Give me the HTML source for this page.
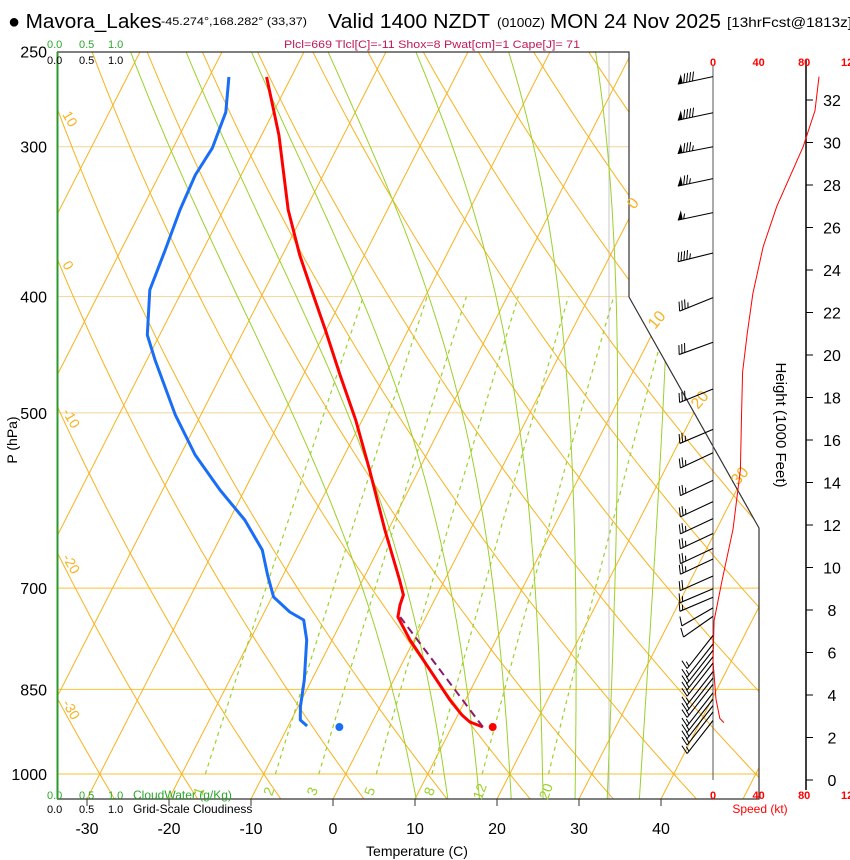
<!DOCTYPE html>
<html><head><meta charset="utf-8"><style>
html,body{margin:0;padding:0;background:#fff;}
svg{display:block;font-family:"Liberation Sans",sans-serif;}
</style></head><body>
<svg id="chart" width="850" height="860" viewBox="0 0 850 860" xmlns="http://www.w3.org/2000/svg">
<defs><clipPath id="plotclip"><polygon points="57,52 629,52 629,297 759,528 759,799 57,799"/></clipPath></defs>
<rect x="0" y="0" width="850" height="860" fill="#fff"/>
<g id="title">
<text x="8" y="28" font-size="20" fill="#000">● <tspan textLength="136" lengthAdjust="spacingAndGlyphs">Mavora_Lakes</tspan></text>
<text x="161" y="25" font-size="11" fill="#000" textLength="146" lengthAdjust="spacingAndGlyphs">-45.274°,168.282° (33,37)</text>
<text x="328" y="28" font-size="20" fill="#000" textLength="162" lengthAdjust="spacingAndGlyphs">Valid 1400 NZDT</text>
<text x="497" y="27" font-size="13" fill="#000" textLength="48" lengthAdjust="spacingAndGlyphs">(0100Z)</text>
<text x="550" y="28" font-size="20" fill="#000" textLength="171" lengthAdjust="spacingAndGlyphs">MON 24 Nov 2025</text>
<text x="727" y="27" font-size="14" fill="#000" textLength="125" lengthAdjust="spacingAndGlyphs">[13hrFcst@1813z]</text>
<text x="432" y="48" font-size="11" fill="#c0185a" text-anchor="middle" textLength="296" lengthAdjust="spacingAndGlyphs">Plcl=669 Tlcl[C]=-11 Shox=8 Pwat[cm]=1 Cape[J]= 71</text>
</g>
<g id="grid" clip-path="url(#plotclip)"></g>
<g id="profiles" clip-path="url(#plotclip)"></g>
<g id="frame"></g>
<g id="labels"></g>
<g id="wind"></g>
</svg>
<script>
// ---- data ----
const tempP = [262.4,293.3,338.7,369.3,391.2,426.5,465.0,506.9,557.9,626.1,689.1,709.2,723.0,739.8,773.2,819.0,867.6,893.0,905.0,913.8];
const tempT = [-53.0,-47.9,-42.1,-37.9,-34.8,-30.1,-25.5,-20.8,-16.0,-10.4,-5.5,-4.1,-3.9,-3.4,-0.5,3.8,8.1,10.5,11.9,13.8];
const dewP = [262.4,280.7,300.7,316.7,338.7,365.8,394.9,430.6,451.8,502.1,542.1,579.8,614.2,650.6,682.6,712.0,732.7,744.1,773.2,834.9,879.3,901.6,912.0];
const dewT = [-57.6,-55.8,-55.2,-55.6,-55.3,-54.6,-54.0,-51.5,-49.0,-43.1,-38.2,-33.0,-28.1,-24.1,-21.9,-19.8,-16.9,-14.7,-13.1,-10.9,-9.7,-8.9,-7.7];
const sfcP = 913.8, sfcT = 15.0, sfcTd = -3.7;
const parcelP = [913.8, 740.0];
const parcelT = [13.8, -3.1];
const speedH = [33.1,31.5,29.8,27.0,25.1,22.9,21.0,19.2,17.1,14.6,11.8,9.4,7.5,5.6,3.8,2.9,2.7];
const speedKt = [93,89.5,79,56,44,35,30,26,25,24,17.5,8,1,0,2.6,6,9.6];
const barbH = [33.1,31.4,29.8,28.3,26.7,24.8,22.7,20.6,18.4,16.5,15.4,14.1,13.1,12.3,11.6,10.9,10.4,9.6,9.0,8.6,8.1,7.7,6.8,6.4,6.1,5.8,5.5,5.1,4.8,4.5,4.1,3.8,3.5,3.2,2.8];
const barbSpd = [90,90,85,75,55,45,35,30,28,25,25,25,25,25,25,25,25,20,15,15,10,10,15,15,15,15,15,15,15,15,15,15,15,15,15];
const barbDir = [258,258,259,258,258,256,248,250,248,247,245,245,245,245,245,245,245,246,247,247,240,235,218,218,218,218,218,218,218,218,218,218,218,218,218];
const pLevels = [250,300,400,500,700,850,1000];
const tempTicks = [-30,-20,-10,0,10,20,30,40];
const heightTicks = [0,2,4,6,8,10,12,14,16,18,20,22,24,26,28,30,32];
const speedTicks = [0,40,80,120];
const isoT = [-130,-120,-110,-100,-90,-80,-70,-60,-50,-40,-30,-20,-10,0,10,20,30,40,50];
const thetaC = [-40,-30,-20,-10,0,10,20,30,40,50,60,70,80,90,100,110,120,130,140,150,160,170,180,190,200];
const thetaW = [8,12,16,20,24,28,32,36];
const mixR = [1,2,3,5,8,12,20];

// ---- axes ----
const NS='http://www.w3.org/2000/svg';
function yP(p){return 774-521*Math.log(1000/p);}
function xT(T,p){return 333+8.2*T+0.51*(799-yP(p));}
function yH(h){return 780-21.25*h;}
function xS(s){return 713+1.14*s;}
function mk(tag,attrs,parent){const e=document.createElementNS(NS,tag);for(const k in attrs)e.setAttribute(k,attrs[k]);parent.appendChild(e);return e;}
const grid=document.getElementById('grid'),prof=document.getElementById('profiles'),frame=document.getElementById('frame'),labels=document.getElementById('labels'),wind=document.getElementById('wind');
function pathFrom(pts){return 'M'+pts.map(p=>p[0].toFixed(1)+','+p[1].toFixed(1)).join('L');}

pLevels.forEach(p=>{
  if(p===250)return;
  const strong=(p>=700);
  const l=mk('line',{x1:57,x2:760,y1:yP(p),y2:yP(p),stroke:strong?'#f7c23a':'#f0d49a','stroke-width':1},grid);
  
  
});
const gv=mk('line',{x1:609,x2:609,y1:52,y2:799,stroke:'#bbb','stroke-width':0.8},grid);


isoT.forEach(T=>{
  const l=mk('line',{x1:xT(T,1050),y1:yP(1050),x2:xT(T,240),y2:yP(240),stroke:'#f7b21e','stroke-width':1},grid);
  
  
});
thetaC.forEach(th=>{
  const pts=[];
  for(let p=1060;p>=240;p-=10){const T=(th+273.15)*Math.pow(p/1000,0.2857)-273.15;pts.push([xT(T,p),yP(p)]);}
  const l=mk('path',{d:pathFrom(pts),fill:'none',stroke:'#f7b21e','stroke-width':1},grid);
  
  
});
function es(T){return 6.112*Math.exp(17.67*T/(T+243.5));}
function moistPts(tw){
  const Rd=287.04,cp=1005.7,Lv=2.501e6,eps=0.622;
  function grad(p,T){const TK=T+273.15;const e=es(T);const rs=eps*e/(p-e);return (1/p)*(Rd*TK+Lv*rs)/(cp+Lv*Lv*rs*eps/(Rd*TK*TK));}
  const up=[],dn=[];let T=tw;
  for(let p=1000;p>=240;p-=5){up.push([xT(T,p),yP(p)]);T-=grad(p,T)*5;}
  T=tw;for(let p=1000;p<=1060;p+=5){dn.push([xT(T,p),yP(p)]);T+=grad(p,T)*5;}
  return dn.reverse().concat(up);
}
thetaW.forEach(tw=>{
  const l=mk('path',{d:pathFrom(moistPts(tw)),fill:'none',stroke:'#9ad12a','stroke-width':1},grid);
  
  
});
function tdFromW(w,p){const e=w*p/(622+w);const a=Math.log(e/6.112);return 243.5*a/(17.67-a);}
mixR.forEach(w=>{
  const pts=[];for(let p=1000;p>=400;p-=10)pts.push([xT(tdFromW(w,p),p),yP(p)]);
  const l=mk('path',{d:pathFrom(pts),fill:'none',stroke:'#9ad12a','stroke-width':1.2,'stroke-dasharray':'4,4'},grid);
  
  
  const x=xT(tdFromW(w,1000),1000)+(w>=8?2:-2);
  const t=mk('text',{x:x,y:793,'font-size':14,fill:'#9ad12a','text-anchor':'middle',transform:'rotate(-70 '+x+' 793)'},labels);
  t.textContent=w;
  
  
});
const tp=mk('path',{d:pathFrom(tempP.map((p,i)=>[xT(tempT[i],p),yP(p)])),fill:'none',stroke:'#f00','stroke-width':3,'stroke-linejoin':'round'},prof);


const dp=mk('path',{d:pathFrom(dewP.map((p,i)=>[xT(dewT[i],p),yP(p)])),fill:'none',stroke:'#1a6ef5','stroke-width':3,'stroke-linejoin':'round'},prof);


const pp=mk('path',{d:pathFrom(parcelP.map((p,i)=>[xT(parcelT[i],p),yP(p)])),fill:'none',stroke:'#8b1a6b','stroke-width':2,'stroke-dasharray':'8,5'},prof);


const st=mk('circle',{cx:xT(sfcT,sfcP),cy:yP(sfcP),r:4,fill:'#f00'},prof);


const sd=mk('circle',{cx:xT(sfcTd,sfcP),cy:yP(sfcP),r:4,fill:'#1a6ef5'},prof);



const fr=mk('polyline',{points:'57,52 629,52 629,297 759,528 759,799 57,799',fill:'none',stroke:'#333','stroke-width':1.2},frame);


const gl=mk('line',{x1:57.5,x2:57.5,y1:52,y2:799,stroke:'#2a9a2a','stroke-width':2},frame);


pLevels.forEach(p=>{
  const t=mk('text',{x:47,y:yP(p)+6,'font-size':16,'text-anchor':'end',fill:'#000'},labels);
  t.textContent=p;
  
  
});
let t0=mk('text',{x:17,y:440,'font-size':14,'text-anchor':'middle',transform:'rotate(-90 17 440)'},labels);
t0.textContent='P (hPa)';


tempTicks.forEach(T=>{
  const x=333+8.2*T;
  const tk=mk('line',{x1:x,x2:x,y1:799,y2:806,stroke:'#333','stroke-width':1},labels);
  
  
  const t=mk('text',{x:x,y:834,'font-size':16,'text-anchor':'middle'},labels);
  t.textContent=T;
  
  
});
t0=mk('text',{x:417,y:856,'font-size':14,'text-anchor':'middle'},labels);
t0.textContent='Temperature (C)';


[10,0,-10,-20,-30].forEach(th=>{
  let best=null;
  for(let p=250;p<=1050;p+=1){const T=(th+273.15)*Math.pow(p/1000,0.2857)-273.15;const x=xT(T,p);if(x<=60){best=yP(p);}}
  if(best===null)return;
  const t=mk('text',{x:62,y:best,'font-size':14,fill:'#f7b21e',transform:'rotate(60 62 '+best+')'},labels);
  t.textContent=th;
  
  
});
[[0,634,210],[10,655,330],[20,698,410],[30,738,486]].forEach(a=>{
  const t=mk('text',{x:a[1],y:a[2],'font-size':16,fill:'#f7b21e',transform:'rotate(-50 '+a[1]+' '+a[2]+')'},labels);
  t.textContent=a[0];
  
  
});
function txt(x,y,s,fs,fill,name,anchor){const t=mk('text',{x:x,y:y,'font-size':fs,fill:fill,'text-anchor':anchor||'start'},labels);t.textContent=s;return t;}
txt(47,48,'0.0','11','#2aa82a','cloudwater-scale-top');txt(79,48,'0.5','11','#2aa82a','cloudwater-scale-top');txt(108,48,'1.0','11','#2aa82a','cloudwater-scale-top');
txt(47,64,'0.0','11','#000','cloudiness-scale-top');txt(79,64,'0.5','11','#000','cloudiness-scale-top');txt(108,64,'1.0','11','#000','cloudiness-scale-top');
txt(47,799,'0.0','11','#2aa82a','cloudwater-scale-bottom');txt(79,799,'0.5','11','#2aa82a','cloudwater-scale-bottom');txt(108,799,'1.0','11','#2aa82a','cloudwater-scale-bottom');
txt(133,799,'CloudWater (g/Kg)','12','#2aa82a','cloudwater-legend');
txt(47,813,'0.0','11','#000','cloudiness-scale-bottom');txt(79,813,'0.5','11','#000','cloudiness-scale-bottom');txt(108,813,'1.0','11','#000','cloudiness-scale-bottom');
txt(133,813,'Grid-Scale Cloudiness','12','#000','cloudiness-legend');

let ax=mk('line',{x1:713,x2:713,y1:66,y2:780,stroke:'#555','stroke-width':1},wind);


ax=mk('line',{x1:806,x2:806,y1:60,y2:790,stroke:'#000','stroke-width':1.5},wind);


heightTicks.forEach(h=>{
  const tk=mk('line',{x1:806,x2:813,y1:yH(h),y2:yH(h),stroke:'#000','stroke-width':1},wind);
  
  
  const t=mk('text',{x:832,y:yH(h)+6,'font-size':16,'text-anchor':'middle'},wind);
  t.textContent=h;
  
  
});
t0=mk('text',{x:776,y:425,'font-size':15,'text-anchor':'middle',transform:'rotate(90 776 425)'},wind);
t0.textContent='Height (1000 Feet)';


speedTicks.forEach(s=>{
  [66,799].forEach(y=>{
    const t=mk('text',{x:(s===120?841:xS(s)),y:y,'font-size':11,'font-weight':'bold',fill:'#f00','text-anchor':(s===120?'start':'middle')},wind);
    t.textContent=(s===120?'120':s);
    
    
  });
});
t0=mk('text',{x:760,y:813,'font-size':12,fill:'#f00','text-anchor':'middle'},wind);
t0.textContent='Speed (kt)';


const spd=mk('path',{d:pathFrom(speedH.map((h,i)=>[xS(speedKt[i]),yH(h)])),fill:'none',stroke:'#f00','stroke-width':1},wind);


barbH.forEach((h,i)=>{
  const g=mk('g',{},wind);
  
  
  const d=barbDir[i]*Math.PI/180;
  const ux=Math.sin(d),uy=-Math.cos(d);
  const L=(h<7?42:36);
  const bx=713,by=yH(h);
  const tx=bx+ux*L,ty=by+uy*L;
  let px=uy,py=-ux; if(py>0){px=-px;py=-py;}
  mk('line',{x1:bx,y1:by,x2:tx,y2:ty,stroke:'#000','stroke-width':1.1},g);
  let s=Math.round(barbSpd[i]/5)*5,pos=0;
  while(s>=50){const ax1=tx-ux*pos,ay1=ty-uy*pos;const ax2=tx-ux*(pos+5),ay2=ty-uy*(pos+5);
    mk('polygon',{points:ax1+','+ay1+' '+(ax2+px*9)+','+(ay2+py*9)+' '+ax2+','+ay2,fill:'#000'},g);pos+=6;s-=50;}
  while(s>=10){const ax1=tx-ux*pos,ay1=ty-uy*pos;mk('line',{x1:ax1,y1:ay1,x2:ax1+px*9-ux*3,y2:ay1+py*9-uy*3,stroke:'#000','stroke-width':1},g);pos+=3;s-=10;}
  if(s>=5){const ax1=tx-ux*pos,ay1=ty-uy*pos;mk('line',{x1:ax1,y1:ay1,x2:ax1+px*5-ux*2,y2:ay1+py*5-uy*2,stroke:'#000','stroke-width':1},g);}
});
</script>
</body></html>
